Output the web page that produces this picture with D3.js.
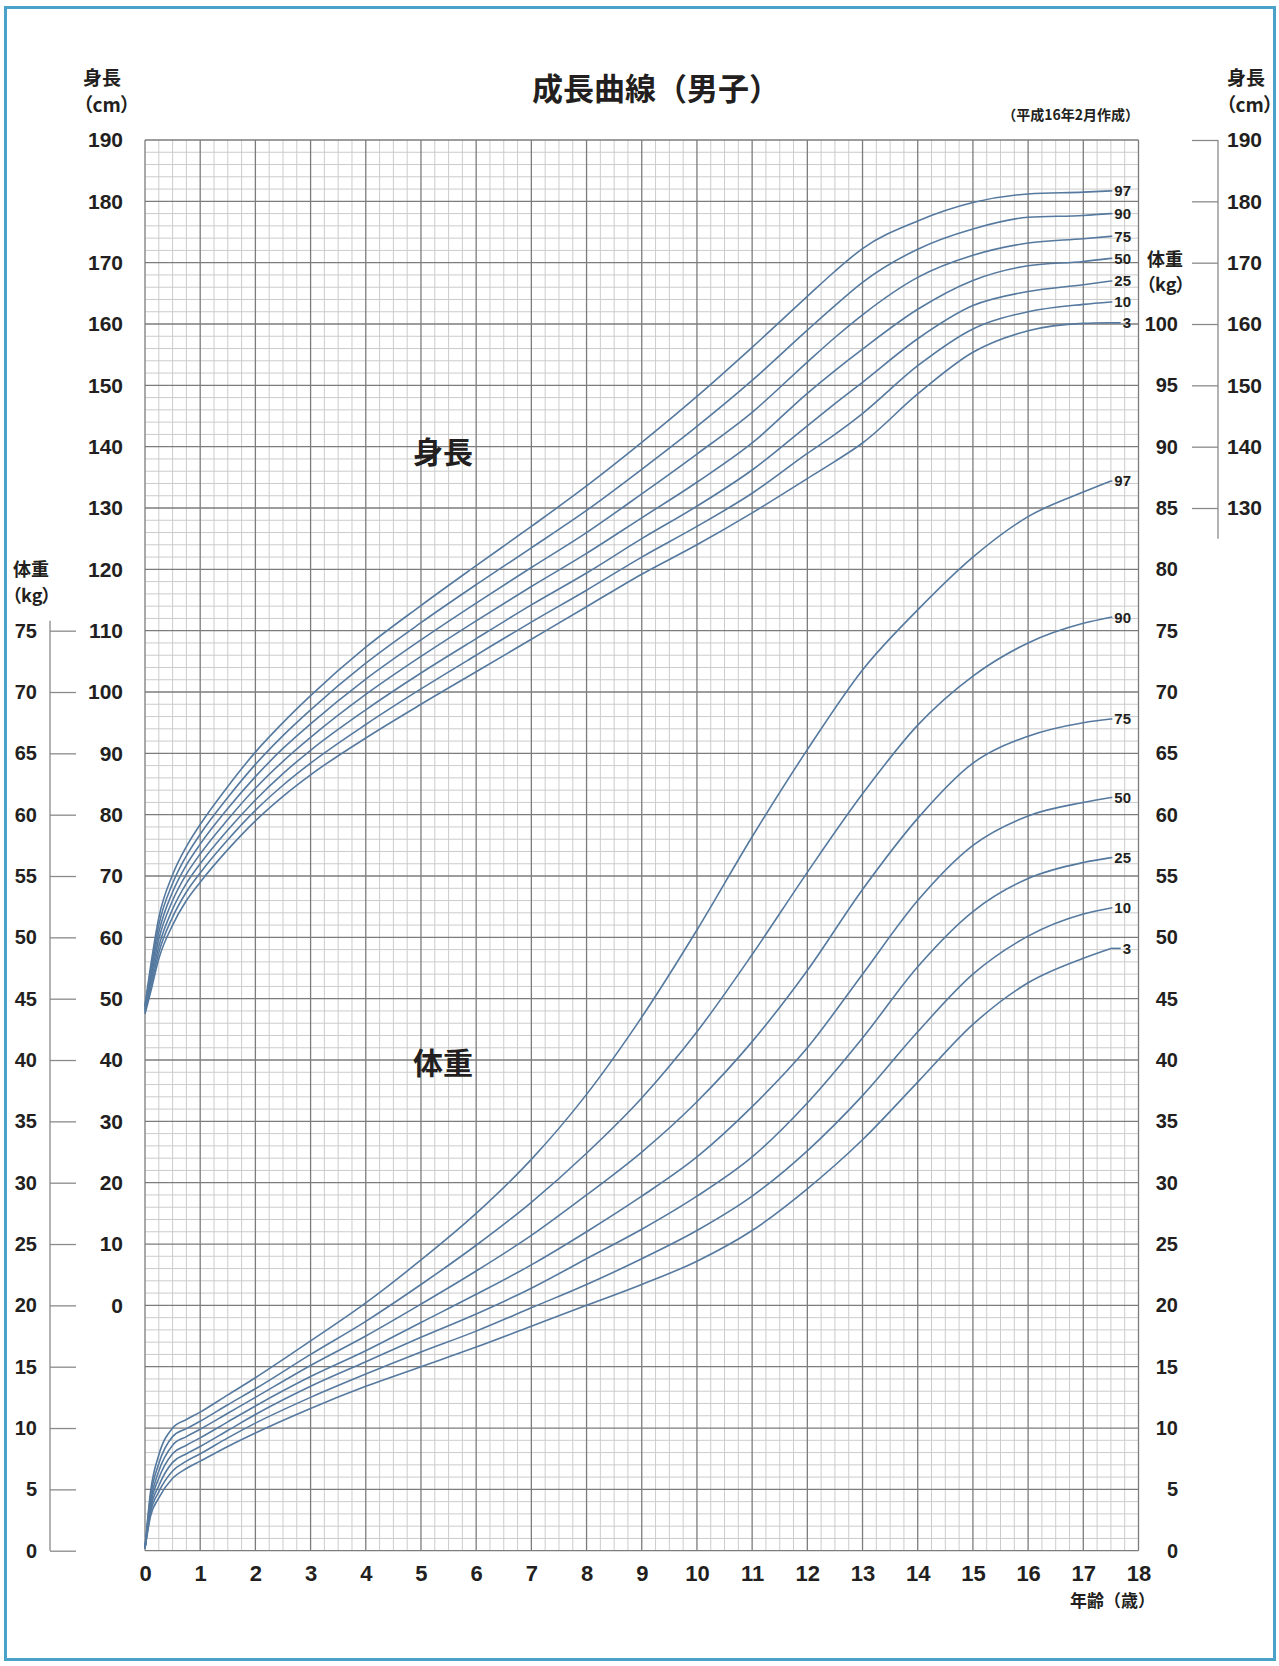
<!DOCTYPE html>
<html lang="ja">
<head>
<meta charset="utf-8">
<title>成長曲線（男子）</title>
<script src="https://cdn.jsdelivr.net/npm/d3@7"></script>
<style>
  body { margin: 0; background: #fff; }
  svg text { font-family: "Liberation Sans", "Noto Sans CJK JP", sans-serif; fill: #231f20; }
  svg .jp { font-family: "Noto Sans CJK JP", sans-serif; font-weight: bold; }
  svg .palt { font-feature-settings: "palt"; }
</style>
</head>
<body>
<div id="chart"></div>
<script>
// Data (age in years, height in cm, weight in kg)
const percentiles = ["3", "10", "25", "50", "75", "90", "97"];

const heightAges = [0, 0.1, 0.25, 0.5, 0.75, 1, 1.5, 2, 2.5, 3, 4, 5, 6, 7, 8, 9, 10, 11, 12, 12.5, 13, 14, 15, 16, 17, 17.5];
const heightP3  = [47.5, 51.0, 56.5, 62.0, 66.0, 69.0, 74.3, 79.0, 83.0, 86.5, 92.5, 98.0, 103.3, 108.6, 113.9, 119.2, 124.0, 129.2, 134.8, 137.6, 140.6, 148.6, 155.4, 158.9, 160.1, 160.2];
const heightP10 = [47.8, 51.7, 57.5, 63.3, 67.4, 70.5, 75.9, 80.7, 84.8, 88.4, 94.7, 100.5, 106.0, 111.4, 116.6, 122.0, 127.0, 132.4, 138.9, 142.0, 145.4, 153.2, 159.2, 162.0, 163.2, 163.6];
const heightP25 = [48.0, 52.4, 58.5, 64.6, 68.8, 72.0, 77.5, 82.4, 86.7, 90.5, 97.1, 103.1, 108.7, 114.2, 119.4, 125.0, 130.3, 136.2, 143.4, 147.0, 150.5, 157.6, 163.0, 165.3, 166.4, 167.0];
const heightP50 = [48.3, 53.1, 59.7, 66.0, 70.3, 73.6, 79.2, 84.3, 88.7, 92.6, 99.6, 105.8, 111.6, 117.2, 122.6, 128.4, 134.2, 140.6, 148.7, 152.4, 155.9, 162.4, 167.1, 169.5, 170.2, 170.7];
const heightP75 = [48.6, 53.8, 60.8, 67.4, 71.8, 75.2, 81.0, 86.2, 90.8, 94.8, 102.1, 108.5, 114.5, 120.3, 126.0, 132.3, 138.8, 145.6, 153.8, 157.8, 161.5, 167.6, 171.2, 173.2, 173.9, 174.3];
const heightP90 = [48.8, 54.5, 62.0, 68.8, 73.3, 76.8, 82.8, 88.2, 92.9, 97.1, 104.7, 111.3, 117.5, 123.5, 129.6, 136.3, 143.3, 150.8, 159.0, 163.0, 166.8, 172.2, 175.5, 177.4, 177.7, 178.0];
const heightP97 = [49.0, 55.2, 63.2, 70.2, 74.8, 78.4, 84.6, 90.2, 95.0, 99.4, 107.3, 114.1, 120.6, 127.0, 133.6, 140.7, 148.2, 156.2, 164.5, 168.6, 172.3, 176.8, 179.8, 181.2, 181.5, 181.7];

const weightAges = [0, 0.1, 0.25, 0.5, 0.75, 1, 1.5, 2, 3, 4, 5, 6, 7, 8, 9, 10, 11, 12, 13, 14, 15, 16, 17, 17.5];
const weightP3  = [0.2, 2.8, 4.3, 5.9, 6.7, 7.3, 8.5, 9.6, 11.6, 13.4, 15.0, 16.6, 18.3, 20.0, 21.7, 23.6, 26.1, 29.5, 33.5, 38.2, 42.9, 46.3, 48.3, 49.1];
const weightP10 = [0.2, 3.1, 4.8, 6.5, 7.3, 7.9, 9.2, 10.4, 12.5, 14.4, 16.2, 17.9, 19.8, 21.7, 23.8, 26.1, 28.9, 32.6, 37.1, 42.3, 47.0, 50.1, 51.9, 52.4];
const weightP25 = [0.2, 3.4, 5.3, 7.2, 7.9, 8.5, 9.8, 11.1, 13.4, 15.4, 17.4, 19.3, 21.4, 23.8, 26.2, 28.9, 32.1, 36.5, 41.8, 47.6, 52.1, 54.8, 56.1, 56.5];
const weightP50 = [0.2, 3.7, 5.9, 7.9, 8.6, 9.2, 10.5, 11.8, 14.2, 16.3, 18.6, 20.9, 23.3, 26.0, 28.9, 32.1, 36.2, 41.0, 47.0, 53.0, 57.5, 59.9, 61.0, 61.4];
const weightP75 = [0.2, 4.0, 6.5, 8.6, 9.3, 9.9, 11.2, 12.5, 15.1, 17.5, 20.1, 22.8, 25.7, 29.0, 32.5, 36.6, 41.5, 47.3, 53.9, 59.7, 64.2, 66.4, 67.5, 67.8];
const weightP90 = [0.2, 4.4, 7.1, 9.3, 9.95, 10.55, 11.9, 13.2, 16.0, 18.7, 21.7, 24.9, 28.4, 32.4, 36.9, 42.3, 48.6, 55.3, 61.7, 67.3, 71.3, 74.0, 75.6, 76.1];
const weightP97 = [0.2, 4.8, 7.8, 10.0, 10.7, 11.3, 12.7, 14.1, 17.1, 20.2, 23.7, 27.5, 31.9, 37.2, 43.5, 50.6, 58.2, 65.3, 71.8, 76.7, 81.0, 84.3, 86.3, 87.2];

// Tick labels
const ageTicks = d3.range(0, 19);
const heightTicksLeft = d3.range(0, 191, 10);
const heightTicksRight = d3.range(130, 191, 10);
const weightTicksLeft = d3.range(0, 76, 5);
const weightTicksRight = d3.range(0, 101, 5);

// Dimensions
const width = 1279;
const height = 1666;
const plot = { left: 145, right: 1138.5, top: 140, bottom: 1550.7 };

const svg = d3.select("#chart")
    .append("svg")
    .attr("width", width)
    .attr("height", height);

// outer frame
svg.append("rect")
    .attr("x", 5.5).attr("y", 7.5)
    .attr("width", 1269).attr("height", 1652)
    .attr("fill", "#fff")
    .attr("stroke", "#4aa2c9")
    .attr("stroke-width", 3);

// Scales: the grid has 23 major rows; height 0 cm sits on weight 20 kg
const x = d3.scaleLinear().domain([0, 18]).range([plot.left, plot.right]);
const yW = d3.scaleLinear().domain([0, 115]).range([plot.bottom, plot.top]);
const yH = d3.scaleLinear().domain([-40, 190]).range([plot.bottom, plot.top]);

// Grid
const gGrid = svg.append("g").attr("class", "grid");
const minorX = d3.range(0, 18.01, 0.25).filter(d => d % 1 !== 0);
const minorY = d3.range(0, 115.01, 1).filter(d => d % 5 !== 0);
const majorX = d3.range(0, 19, 1);
const majorY = d3.range(0, 116, 5);

gGrid.selectAll("line.minor-x")
    .data(minorX)
    .join("line")
    .attr("class", "minor-x")
    .attr("x1", d => x(d)).attr("x2", d => x(d))
    .attr("y1", plot.top).attr("y2", plot.bottom)
    .attr("stroke", "#cccccc").attr("stroke-width", 1);

gGrid.selectAll("line.minor-y")
    .data(minorY)
    .join("line")
    .attr("class", "minor-y")
    .attr("x1", plot.left).attr("x2", plot.right)
    .attr("y1", d => yW(d)).attr("y2", d => yW(d))
    .attr("stroke", "#cccccc").attr("stroke-width", 1);

gGrid.selectAll("line.major-x")
    .data(majorX)
    .join("line")
    .attr("class", "major-x")
    .attr("x1", d => x(d)).attr("x2", d => x(d))
    .attr("y1", plot.top).attr("y2", plot.bottom)
    .attr("stroke", "#7c7c7c").attr("stroke-width", 1.3);

gGrid.selectAll("line.major-y")
    .data(majorY)
    .join("line")
    .attr("class", "major-y")
    .attr("x1", plot.left).attr("x2", plot.right)
    .attr("y1", d => yW(d)).attr("y2", d => yW(d))
    .attr("stroke", "#7c7c7c").attr("stroke-width", 1.3);

// Curves
const curveColor = "#55799f";
const heightSeries = [heightP3, heightP10, heightP25, heightP50, heightP75, heightP90, heightP97]
    .map((vals, i) => ({ id: percentiles[i], values: heightAges.map((a, j) => ({ age: a, v: vals[j] })) }));
const weightSeries = [weightP3, weightP10, weightP25, weightP50, weightP75, weightP90, weightP97]
    .map((vals, i) => ({ id: percentiles[i], values: weightAges.map((a, j) => ({ age: a, v: vals[j] })) }));

const lineH = d3.line().x(d => x(d.age)).y(d => yH(d.v)).curve(d3.curveMonotoneX);
const lineW = d3.line().x(d => x(d.age)).y(d => yW(d.v)).curve(d3.curveMonotoneX);

const labelX = 1131;

function drawSeries(cls, series, line, yScale) {
    const g = svg.append("g").attr("class", cls);
    g.selectAll("path.curve")
        .data(series, d => d.id)
        .join("path")
        .attr("class", "curve")
        .attr("fill", "none")
        .attr("stroke", curveColor)
        .attr("stroke-width", 1.6)
        .attr("d", d => line(d.values));

    const labels = g.selectAll("text.pct")
        .data(series, d => d.id)
        .join("text")
        .attr("class", "pct")
        .attr("x", labelX)
        .attr("y", d => yScale(d.values[d.values.length - 1].v))
        .attr("dy", "0.36em")
        .attr("text-anchor", "end")
        .attr("font-size", 15)
        .attr("font-weight", "bold")
        .text(d => d.id);

    // short leader from curve end to its label
    labels.each(function(d) {
        const last = d.values[d.values.length - 1];
        const w = this.getComputedTextLength();
        g.append("line")
            .attr("x1", x(last.age)).attr("x2", labelX - w - 2)
            .attr("y1", yScale(last.v)).attr("y2", yScale(last.v))
            .attr("stroke", curveColor).attr("stroke-width", 1.6);
    });
}

drawSeries("height-curves", heightSeries, lineH, yH);
drawSeries("weight-curves", weightSeries, lineW, yW);

// Axes
function styleAxis(g, size) {
    g.select(".domain").remove();
    g.selectAll("text")
        .attr("font-size", size)
        .attr("font-weight", "bold")
        .attr("fill", "#231f20");
}

const axisColor = "#8a8a8a";

// left height labels
svg.append("g")
    .attr("transform", "translate(123,0)")
    .call(d3.axisLeft(yH).tickValues(heightTicksLeft).tickSize(0).tickPadding(0))
    .call(g => styleAxis(g, 21));

// left weight axis: ticks and labels
svg.append("line")
    .attr("x1", 50).attr("x2", 50)
    .attr("y1", yW(75) - 10).attr("y2", yW(0))
    .attr("stroke", axisColor).attr("stroke-width", 1.3);
svg.append("g")
    .attr("transform", "translate(50,0)")
    .call(d3.axisRight(yW).tickValues(weightTicksLeft).tickSize(26).tickFormat(""))
    .call(g => {
        g.select(".domain").remove();
        g.selectAll("line").attr("stroke", axisColor).attr("stroke-width", 1.3);
    });
svg.append("g")
    .attr("transform", "translate(37,0)")
    .call(d3.axisLeft(yW).tickValues(weightTicksLeft).tickSize(0).tickPadding(0))
    .call(g => styleAxis(g, 20));

// right weight labels
svg.append("g")
    .attr("transform", "translate(1178,0)")
    .call(d3.axisLeft(yW).tickValues(weightTicksRight).tickSize(0).tickPadding(0))
    .call(g => styleAxis(g, 20));

// right height axis
svg.append("line")
    .attr("x1", 1218).attr("x2", 1218)
    .attr("y1", yH(190)).attr("y2", yH(125))
    .attr("stroke", axisColor).attr("stroke-width", 1.3);
svg.append("g")
    .attr("transform", "translate(1218,0)")
    .call(d3.axisLeft(yH).tickValues(heightTicksRight).tickSize(26).tickFormat(""))
    .call(g => {
        g.select(".domain").remove();
        g.selectAll("line").attr("stroke", axisColor).attr("stroke-width", 1.3);
    });
svg.append("g")
    .attr("transform", "translate(1262,0)")
    .call(d3.axisLeft(yH).tickValues(heightTicksRight).tickSize(0).tickPadding(0))
    .call(g => styleAxis(g, 21));

// bottom age labels
svg.append("g")
    .attr("transform", `translate(0,${plot.bottom})`)
    .call(d3.axisBottom(x).tickValues(ageTicks).tickSize(0).tickPadding(15))
    .call(g => styleAxis(g, 22));

// Titles and unit labels
function label(txt, lx, ly, size, anchor, extraClass) {
    svg.append("text")
        .attr("class", "jp" + (extraClass ? " " + extraClass : ""))
        .attr("x", lx).attr("y", ly)
        .attr("font-size", size)
        .attr("text-anchor", anchor || "start")
        .text(txt);
}

label("成長曲線（男子）", 656, 100, 31, "middle");
label("（平成16年2月作成）", 1139, 120, 14, "end");

label("身長", 83, 85, 19, "start");
label("（cm）", 83, 112, 19, "start", "palt");
label("身長", 1227, 85, 19, "start");
label("（cm）", 1226, 112, 19, "start", "palt");

label("体重", 13, 576, 18, "start");
label("（kg）", 12, 602, 18, "start", "palt");
label("体重", 1147, 266, 18, "start");
label("（kg）", 1146, 291, 18, "start", "palt");

label("身長", 413, 463, 30, "start");
label("体重", 413, 1074, 30, "start");

label("年齢（歳）", 1155, 1607, 17, "end");
</script>
</body>
</html>
